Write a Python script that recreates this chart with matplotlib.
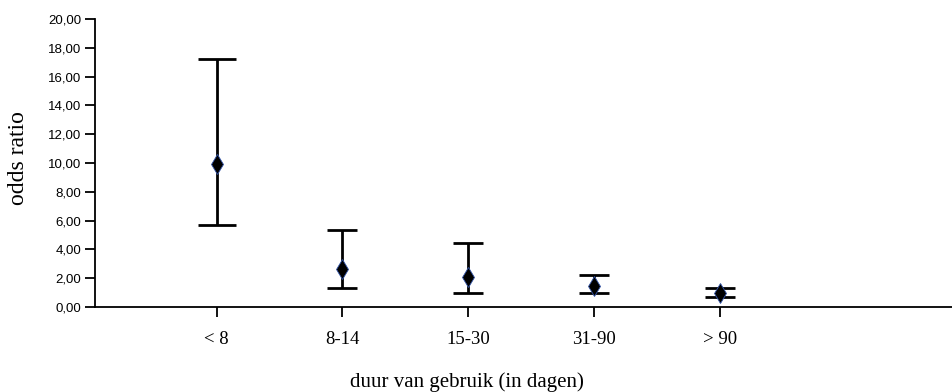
import matplotlib.pyplot as plt
from matplotlib.ticker import FuncFormatter

# duur van gebruik -> odds ratio met betrouwbaarheidsinterval
categories = ['< 8', '8-14', '15-30', '31-90', '> 90']
odds_ratio = [9.9, 2.64, 2.1, 1.48, 0.95]
ci_lower = [5.7, 1.32, 0.97, 0.97, 0.72]
ci_upper = [17.2, 5.35, 4.47, 2.24, 1.34]
cap_sizes = [14, 11, 11, 11, 11]

fig = plt.figure(figsize=(9.53, 3.92), dpi=100)
ax = fig.add_axes([95 / 953, 1 - 307 / 392, 1 - 95 / 953, (307 - 19) / 392])

x = list(range(len(categories)))
for i in x:
    err = [[odds_ratio[i] - ci_lower[i]], [ci_upper[i] - odds_ratio[i]]]
    ax.errorbar([i], [odds_ratio[i]], yerr=err, fmt='none', ecolor='black',
                elinewidth=2, capsize=cap_sizes[i], capthick=2)
    ax.plot([i], [odds_ratio[i]], marker='d', markersize=10, color='black',
            markeredgecolor='#3355aa', markeredgewidth=0.6, linestyle='none')

ax.set_xlim(-0.966, 5.85)
ax.set_ylim(0, 20)
ax.set_yticks(range(0, 21, 2))
ax.yaxis.set_major_formatter(FuncFormatter(lambda v, p: f"{v:.2f}".replace('.', ',')))
ax.set_xticks(x)
ax.set_xticklabels(categories, family='Liberation Serif', fontsize=13.5)
for lab in ax.get_yticklabels():
    lab.set_family('Liberation Sans')
    lab.set_fontsize(9.5)

ax.spines['top'].set_visible(False)
ax.spines['right'].set_visible(False)
ax.spines['left'].set_linewidth(1.3)
ax.spines['bottom'].set_linewidth(1.3)
ax.tick_params(axis='both', direction='out', length=7, width=1.3, color='black')
ax.tick_params(axis='x', pad=10)
ax.tick_params(axis='y', pad=3)

ax.set_xlabel('duur van gebruik (in dagen)', family='Liberation Serif', fontsize=15)
ax.xaxis.set_label_coords((467 - 95) / 858, (307 - 382) / 288)
ax.xaxis.label.set_va('center')
ax.set_ylabel('odds ratio', family='Liberation Serif', fontsize=17)
ax.yaxis.set_label_coords((19 - 95) / 858, (307 - 158) / 288)
ax.yaxis.label.set_va('center')

fig.savefig('out.png', dpi=100)
